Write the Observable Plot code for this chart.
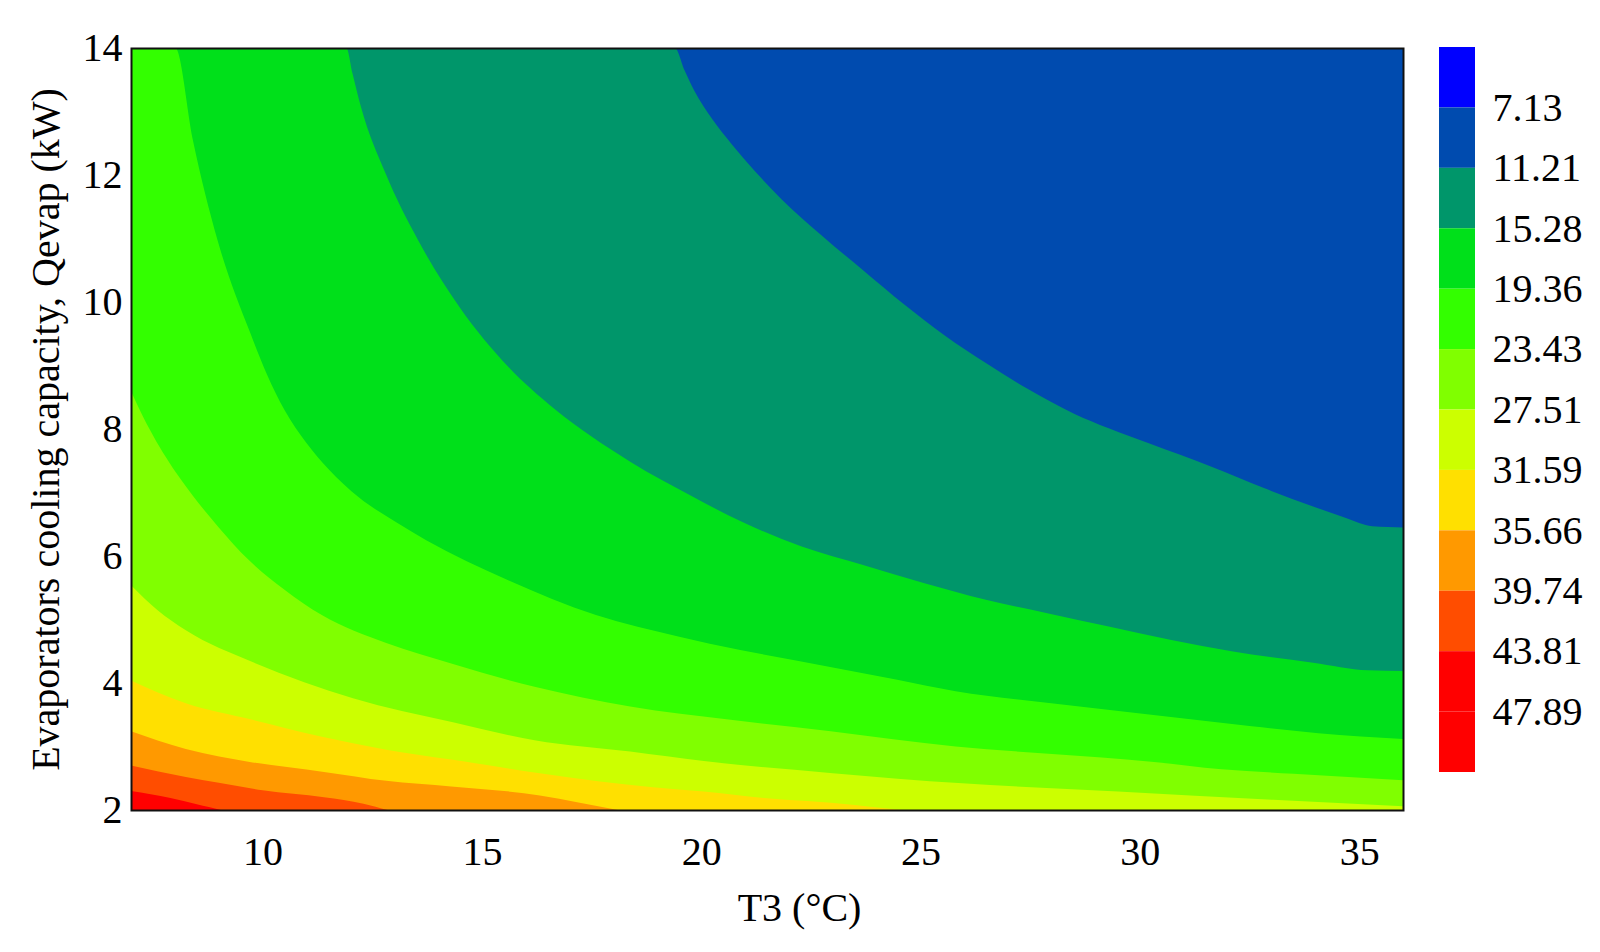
<!DOCTYPE html>
<html>
<head>
<meta charset="utf-8">
<script src="https://cdn.jsdelivr.net/npm/d3@7"></script>
<script src="https://cdn.jsdelivr.net/npm/@observablehq/plot@0.6"></script>
<style>
  html, body { margin: 0; padding: 0; background: #ffffff; }
  #wrap { position: relative; width: 1600px; height: 952px; background: #ffffff; overflow: hidden; }
  #legend { position: absolute; left: 1439px; top: 0px; }
  #main { position: absolute; left: 0px; top: 0px; }
</style>
</head>
<body>
<div id="wrap"><div id="main"></div><div id="legend"></div></div>
<script>
// ---- data ----
const levels = [7.13, 11.21, 15.28, 19.36, 23.43, 27.51, 31.59, 35.66, 39.74, 43.81, 47.89];
const bandColors = ["#0000FF", "#004BAF", "#00966A", "#00E01A", "#33FF00", "#80FF00",
                    "#CCFF00", "#FFE000", "#FF9900", "#FF4D00", "#FF0000", "#FF0000"];
const xTicks = [10, 15, 20, 25, 30, 35];
const yTicks = [2, 4, 6, 8, 10, 12, 14];
const xTitle = "T3 (°C)";
const yTitle = "Evaporators cooling capacity, Qevap (kW)";

// contour boundaries as [T3, Qevap] points
const iso11_21 = [[7,14],[19.40,14.0],[19.62,13.65],[19.84,13.33],[20.25,12.88],[20.7,12.48],[21.2,12.08],[21.83,11.62],[22.76,11.04],[23.69,10.50],[24.63,9.96],[25.56,9.47],[26.49,9.04],[27.42,8.64],[28.5,8.24],[29.29,8.01],[30.22,7.77],[31.62,7.41],[32.83,7.07],[33.95,6.78],[34.70,6.60],[35.3,6.47],[36,6.45]];
const iso15_28 = [[7,14],[11.91,14.0],[12.05,13.6],[12.24,13.08],[12.80,12.03],[13.54,10.98],[14.48,9.93],[15.60,8.98],[16.65,8.32],[17.5,7.88],[18.39,7.48],[19.79,6.94],[20.89,6.55],[22.29,6.15],[23.69,5.86],[25.09,5.57],[26.49,5.31],[27.89,5.10],[29.29,4.89],[30.69,4.68],[32.09,4.50],[33.95,4.32],[35.2,4.20],[36,4.19]];
const iso19_36 = [[7,14],[8.01,14.0],[8.41,12.55],[8.97,10.98],[9.72,9.51],[10.1,8.86],[10.5,8.3],[11.0,7.78],[11.5,7.37],[12.2,6.92],[13.0,6.55],[13.73,6.25],[15.60,5.62],[17.6,5.07],[19.5,4.73],[20.89,4.52],[22.19,4.35],[24.47,4.05],[25.8,3.87],[27.98,3.68],[30.26,3.50],[32.55,3.32],[34.07,3.21],[36,3.12]];
const iso23_43 = [[7,8.6],[7.20,8.30],[7.8,7.55],[8.41,6.95],[9.0,6.45],[9.68,5.94],[10.5,5.47],[11.35,5.07],[12.82,4.63],[14.34,4.30],[16.2,3.94],[18.38,3.63],[20.67,3.42],[22.95,3.24],[25.8,3.00],[28.0,2.88],[30.26,2.76],[31.86,2.64],[33.5,2.57],[36,2.47]];
const iso27_51 = [[7,5.54],[7.6,5.15],[8.25,4.83],[9.77,4.33],[12.06,3.76],[14.34,3.38],[16.2,3.10],[18.38,2.92],[20.06,2.77],[23.0,2.58],[25.95,2.42],[29.5,2.29],[33.04,2.16],[36,2.06]];
const iso31_59 = [[7,4.04],[8.25,3.68],[9.77,3.42],[11.30,3.16],[12.82,2.95],[14.34,2.79],[16.32,2.58],[17.69,2.45],[18.9,2.36],[20.06,2.29],[21.43,2.19],[22.42,2.14],[23.5,2.08],[24.3,2.02],[26,1.92]];
const iso35_66 = [[7,3.24],[8.25,2.96],[9.77,2.75],[11.4,2.60],[12.82,2.46],[14.3,2.37],[16.32,2.23],[17.2,2.12],[18.1,2.0],[19,1.9]];
const iso39_74 = [[7,2.70],[8.25,2.52],[9.0,2.43],[10.0,2.31],[11.4,2.20],[12.3,2.10],[12.85,2.0],[13.5,1.9]];
const iso43_81 = [[7,2.30],[7.9,2.19],[8.5,2.09],[9.05,2.0],[9.5,1.9]];

const isolines = [
  {level: 11.21, pts: iso11_21},
  {level: 15.28, pts: iso15_28},
  {level: 19.36, pts: iso19_36},
  {level: 23.43, pts: iso23_43},
  {level: 27.51, pts: iso27_51},
  {level: 31.59, pts: iso31_59},
  {level: 35.66, pts: iso35_66},
  {level: 39.74, pts: iso39_74},
  {level: 43.81, pts: iso43_81}
];

const fontStyle = {fontFamily: "'Liberation Serif', 'Times New Roman', serif", fontSize: "40px", color: "#000"};

// ---- main contour plot ----
const areaMarks = isolines.map(({level, pts}) =>
  Plot.areaY(pts, {
    x: d => d[0], y1: 2, y2: d => d[1],
    fill: bandColors[levels.indexOf(level) + 1],
    curve: "monotone-x", clip: true
  })
);

const main = Plot.plot({
  width: 1600, height: 952,
  marginLeft: 131, marginRight: 197, marginTop: 48, marginBottom: 142,
  style: {...fontStyle, background: "#ffffff", overflow: "visible"},
  x: {domain: [7, 36]},
  y: {domain: [2, 14]},
  marks: [
    Plot.frame({fill: bandColors[1], stroke: null}),
    ...areaMarks,
    Plot.frame({stroke: "#111", strokeWidth: 2}),
    Plot.axisX({ticks: xTicks, tickSize: 0, tickPadding: 26, label: null}),
    Plot.axisY({ticks: yTicks, tickSize: 0, tickPadding: 9, label: null}),
    Plot.text([xTitle], {frameAnchor: "bottom", text: d => d, textAnchor: "middle", dx: 32, dy: 98, lineAnchor: "middle"}),
    Plot.text([yTitle], {frameAnchor: "left", text: d => d, rotate: -90, textAnchor: "middle", dx: -85, lineAnchor: "middle"})
  ]
});
document.getElementById("main").appendChild(main);

// ---- colour legend ----
const bands = bandColors.map((c, i) => ({i, c}));
const legend = Plot.plot({
  width: 161, height: 952,
  marginLeft: 0, marginRight: 125, marginTop: 47, marginBottom: 180,
  style: {...fontStyle, background: "transparent", overflow: "visible"},
  x: {domain: [0, 1], axis: null},
  y: {domain: [0, bandColors.length], reverse: true, axis: null},
  marks: [
    Plot.rect(bands, {x1: 0, x2: 1, y1: d => d.i, y2: d => d.i + 1, fill: d => d.c}),
    Plot.text(levels, {x: 1, y: (d, i) => i + 1, text: d => d.toFixed(2), textAnchor: "start", dx: 17})
  ]
});
document.getElementById("legend").appendChild(legend);
</script>
</body>
</html>
